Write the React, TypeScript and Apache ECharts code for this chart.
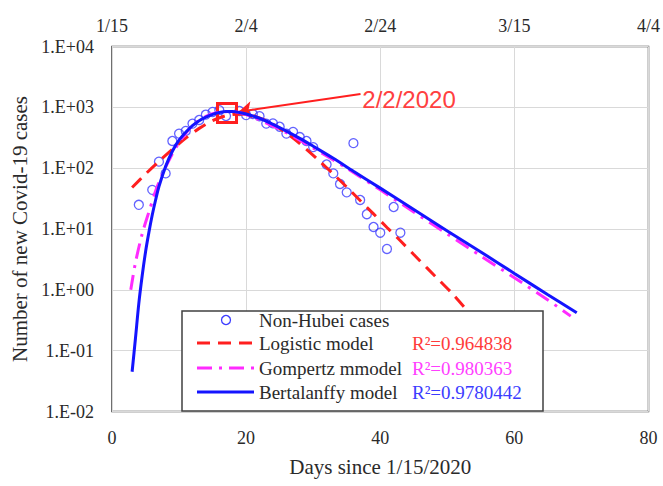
import React, { useEffect, useRef } from "react";
import * as echarts from "echarts";

// Observed data (Non-Hubei new cases)
const caseDays = [4, 6, 7, 8, 9, 10, 11, 12, 13, 14, 15, 16, 17, 19, 20, 21, 22, 23, 24, 25, 26, 27, 28, 29, 30, 32, 33, 34, 35, 36, 37, 38, 39, 40, 41, 42, 43];
const caseValues = [25, 44, 128, 82, 280, 370, 410, 540, 620, 760, 840, 900, 720, 870, 745, 775, 715, 540, 545, 480, 370, 395, 325, 280, 222, 115, 82, 55, 40, 258, 30, 17.5, 10.8, 8.7, 4.7, 23, 8.7];

// Logistic model
const logisticDays = [3, 5, 7, 9, 11, 13, 15, 17, 19, 21, 23, 25, 27, 29, 31, 33, 35, 37, 39, 41, 43, 45, 47, 49, 51, 53.4];
const logisticValues = [48, 80, 129, 204, 312, 451, 604, 730, 780, 730, 604, 451, 312, 204, 129, 80, 49, 29.4, 17.7, 10.6, 6.4, 3.8, 2.27, 1.36, 0.81, 0.40];

// Gompertz model
const gompertzDays = [2.8, 3.5, 4.5, 5.5, 6.5, 7.5, 8.5, 10, 12, 14, 16, 18, 20, 25, 30, 35, 40, 45, 50, 55, 60, 65, 68.4];
const gompertzValues = [1.0, 2.8, 8.3, 19, 42, 79, 135, 263, 501, 708, 832, 851, 759, 437, 214, 100, 44, 19, 8.3, 3.6, 1.58, 0.68, 0.37];

// Bertalanffy model
const bertDays = [3.0, 3.5, 4.0, 4.5, 5.0, 5.5, 6.0, 6.5, 7.0, 8.0, 9.0, 10, 11, 12, 13, 14, 15, 16, 17, 18, 19, 20, 22, 24, 26, 28, 30, 33, 36, 40, 45, 50, 55, 60, 65, 69.3];
const bertValues = [0.045, 0.16, 0.6, 1.7, 4.2, 8.8, 17, 30, 50, 107, 190, 288, 389, 501, 603, 692, 767, 822, 851, 851, 822, 776, 661, 525, 407, 309, 229, 145, 89, 47, 21, 9.3, 4.2, 1.86, 0.83, 0.42];

const topLabels = ["1/15", "2/4", "2/24", "3/15", "4/4"];
const r2Texts = ["R²=0.964838", "R²=0.980363", "R²=0.9780442"];
const legendNames = ["Non-Hubei cases", "Logistic model", "Gompertz mmodel", "Bertalanffy model"];

const peakPoint = [17.15, 807];
const arrowFrom = [37.06, 1656];
const arrowTo = [18.9, 847];
const annotAt = [37.25, 1370];

const zip = (xs: number[], ys: number[]) => xs.map((x, i) => [x, ys[i]]);

const SERIF = '"Liberation Serif", "Times New Roman", serif';
const RED = "#ff1f1f";
const MAG = "#ff2bff";
const BLUE = "#1414ff";

export default function App() {
  const ref = useRef<HTMLDivElement>(null);
  useEffect(() => {
    if (!ref.current) return;
    const chart = echarts.init(ref.current, undefined, { renderer: "svg" });
    const legendX = 182, legendY = 311;
    const rows = [320, 343, 368, 392];
    chart.setOption({
      animation: false,
      backgroundColor: "#fff",
      grid: {
        left: 112, right: 12, top: 46.5, bottom: 74.5,
        show: true, borderColor: "#404040", borderWidth: 1.5, backgroundColor: "transparent",
      },
      xAxis: [
        {
          type: "value", min: 0, max: 80, interval: 20, position: "bottom",
          axisLine: { show: false }, axisTick: { show: false },
          splitLine: { show: true, lineStyle: { color: "#d9d9d9", width: 1 } },
          axisLabel: { fontFamily: SERIF, fontSize: 18, color: "#2a2a2a", margin: 17 },
          name: "Days since 1/15/2020", nameLocation: "middle", nameGap: 45,
          nameTextStyle: { fontFamily: SERIF, fontSize: 21, color: "#2a2a2a" },
        },
        {
          type: "value", min: 0, max: 80, interval: 20, position: "top",
          axisLine: { show: false }, axisTick: { show: false }, splitLine: { show: false },
          axisLabel: {
            fontFamily: SERIF, fontSize: 18, color: "#2a2a2a", margin: 12,
            formatter: (v: number) => topLabels[Math.round(v / 20)] ?? "",
          },
        },
      ],
      yAxis: {
        type: "log", logBase: 10, min: 0.01, max: 10000, splitNumber: 6,
        axisLine: { show: false }, axisTick: { show: false },
        splitLine: { show: true, lineStyle: { color: "#d9d9d9", width: 1 } },
        minorTick: { show: false }, minorSplitLine: { show: false },
        axisLabel: {
          fontFamily: SERIF, fontSize: 18, color: "#2a2a2a", margin: 18,
          formatter: (v: number) => {
            const e = Math.round(Math.log10(v));
            return "1.E" + (e >= 0 ? "+" : "-") + String(Math.abs(e)).padStart(2, "0");
          },
        },
        name: "Number of new Covid-19 cases", nameLocation: "middle", nameGap: 80, nameRotate: 90,
        nameTextStyle: { fontFamily: SERIF, fontSize: 21, color: "#2a2a2a" },
      },
      series: [
        {
          name: legendNames[0], type: "scatter", data: zip(caseDays, caseValues),
          symbol: "circle", symbolSize: 9,
          itemStyle: { color: "rgba(0,0,0,0)", borderColor: "#3b3bff", borderWidth: 1.3 },
          z: 3,
        },
        {
          name: legendNames[1], type: "line", data: zip(logisticDays, logisticValues),
          symbol: "none", smooth: 0.3, z: 4,
          lineStyle: { color: RED, width: 3, type: [13, 8] },
        },
        {
          name: legendNames[2], type: "line", data: zip(gompertzDays, gompertzValues),
          symbol: "none", smooth: 0.3, z: 5,
          lineStyle: { color: MAG, width: 3, type: [15, 7, 3, 7] },
        },
        {
          name: legendNames[3], type: "line", data: zip(bertDays, bertValues),
          symbol: "none", smooth: 0.3, z: 6,
          lineStyle: { color: BLUE, width: 3 },
          markLine: {
            silent: true, symbol: ["none", "arrow"], symbolSize: 13,
            lineStyle: { color: RED, width: 2, type: "solid" },
            label: { show: false },
            data: [[{ coord: arrowFrom }, { coord: arrowTo }]],
          },
          markPoint: {
            silent: true,
            data: [
              {
                coord: peakPoint, symbol: "rect", symbolSize: 19,
                itemStyle: { color: "rgba(0,0,0,0)", borderColor: RED, borderWidth: 3 },
                label: { show: false },
              },
              {
                coord: annotAt, symbol: "circle", symbolSize: 1,
                itemStyle: { color: "rgba(0,0,0,0)" },
                label: {
                  show: true, position: "right", distance: 0, formatter: "2/2/2020",
                  color: "#ff4040", fontSize: 24, fontFamily: '"Liberation Sans", Arial, sans-serif',
                },
              },
            ],
          },
        },
      ],
      graphic: [
        {
          type: "group", z: 100,
          children: [
            {
              type: "rect", shape: { x: legendX, y: legendY, width: 361, height: 100 },
              style: { fill: "#fff", stroke: "#404040", lineWidth: 1.5 }, z: 100,
            },
            {
              type: "circle", shape: { cx: 226, cy: rows[0], r: 4.5 },
              style: { fill: "rgba(0,0,0,0)", stroke: "#3b3bff", lineWidth: 1.3 }, z: 101,
            },
            {
              type: "line", shape: { x1: 197, y1: rows[1], x2: 254, y2: rows[1] },
              style: { stroke: RED, lineWidth: 3, lineDash: [13, 8] }, z: 101,
            },
            {
              type: "line", shape: { x1: 197, y1: rows[2], x2: 254, y2: rows[2] },
              style: { stroke: MAG, lineWidth: 3, lineDash: [15, 7, 3, 7] }, z: 101,
            },
            {
              type: "line", shape: { x1: 197, y1: rows[3], x2: 254, y2: rows[3] },
              style: { stroke: BLUE, lineWidth: 3 }, z: 101,
            },
            ...legendNames.map((n, i) => ({
              type: "text", z: 101,
              style: { text: n, x: 259, y: rows[i], fill: "#2a2a2a", font: `19px ${SERIF}`, verticalAlign: "middle", align: "left" },
            })),
            ...r2Texts.map((t, i) => ({
              type: "text", z: 101,
              style: {
                text: t, x: 412, y: rows[i + 1], fill: ["#ff3b3b", "#ff40ff", "#3c3cff"][i],
                font: `19px ${SERIF}`, verticalAlign: "middle", align: "left",
              },
            })),
          ],
        },
      ],
    });
    return () => chart.dispose();
  }, []);
  return <div ref={ref} style={{ position: "fixed", left: 0, top: 0, width: 663, height: 486 }} />;
}
